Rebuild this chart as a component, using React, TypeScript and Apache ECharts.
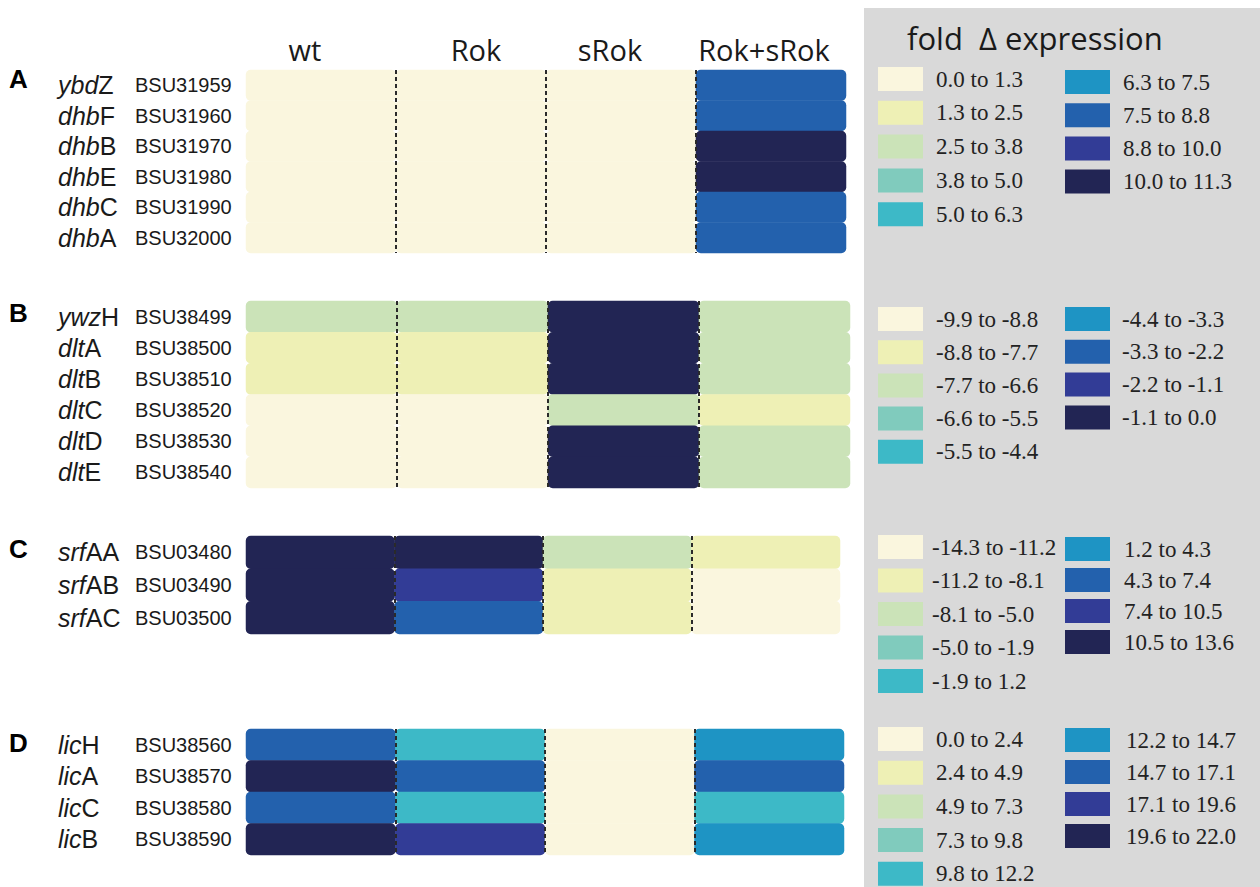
import React, { useEffect, useRef } from "react";
import * as echarts from "echarts";

// ---------- data ----------
const conditions = ["wt", "Rok", "sRok", "Rok+sRok"];
const panelLetters = ["A", "B", "C", "D"];

const genesA = ["ybdZ", "dhbF", "dhbB", "dhbE", "dhbC", "dhbA"];
const idsA = ["BSU31959", "BSU31960", "BSU31970", "BSU31980", "BSU31990", "BSU32000"];
// rows: genes, columns: wt, Rok, sRok, Rok+sRok
const valuesA = [
  [0.5, 0.6, 0.4, 8.1],
  [0.6, 0.5, 0.5, 8.0],
  [0.4, 0.6, 0.5, 10.7],
  [0.5, 0.4, 0.6, 10.9],
  [0.6, 0.5, 0.4, 8.2],
  [0.5, 0.6, 0.5, 8.0],
];
const binsA = [0.0, 1.3, 2.5, 3.8, 5.0, 6.3, 7.5, 8.8, 10.0, 11.3];

const genesB = ["ywzH", "dltA", "dltB", "dltC", "dltD", "dltE"];
const idsB = ["BSU38499", "BSU38500", "BSU38510", "BSU38520", "BSU38530", "BSU38540"];
const valuesB = [
  [-7.1, -7.0, -0.5, -7.0],
  [-8.2, -8.1, -0.4, -7.1],
  [-8.0, -8.3, -0.6, -6.9],
  [-9.3, -9.5, -7.2, -8.0],
  [-9.4, -9.3, -0.3, -7.2],
  [-9.2, -9.4, -0.5, -7.0],
];
const binsB = [-9.9, -8.8, -7.7, -6.6, -5.5, -4.4, -3.3, -2.2, -1.1, 0.0];

const genesC = ["srfAA", "srfAB", "srfAC"];
const idsC = ["BSU03480", "BSU03490", "BSU03500"];
const valuesC = [
  [12.1, 11.0, -6.5, -10.1],
  [12.5, 8.9, -9.6, -12.3],
  [11.8, 5.8, -9.9, -12.8],
];
const binsC = [-14.3, -11.2, -8.1, -5.0, -1.9, 1.2, 4.3, 7.4, 10.5, 13.6];

const genesD = ["licH", "licA", "licC", "licB"];
const idsD = ["BSU38560", "BSU38570", "BSU38580", "BSU38590"];
const valuesD = [
  [15.9, 11.0, 1.1, 13.5],
  [20.8, 15.5, 1.2, 15.8],
  [16.2, 10.8, 1.0, 11.2],
  [20.5, 18.3, 1.1, 13.2],
];
const binsD = [0.0, 2.4, 4.9, 7.3, 9.8, 12.2, 14.7, 17.1, 19.6, 22.0];

const palette = [
  "#faf6de", "#eef0b5", "#cbe3b8", "#80cbbd", "#3db9c7",
  "#1e94c4", "#2361ad", "#323c96", "#222554",
];

// ---------- layout ----------
const SERIF = "'Liberation Serif', 'Times New Roman', Times, serif";
const SANS = "'Liberation Sans', Arial, sans-serif";
const panels = [
  { genes: genesA, ids: idsA, values: valuesA, bins: binsA,
    grid: { left: 246, top: 70, width: 600, height: 183 }, letterY: 79,
    leg: { lTop: 67, lStep: 33.8, rTop: 70, rStep: 33.2, lText: 936, rText: 1123 } },
  { genes: genesB, ids: idsB, values: valuesB, bins: binsB,
    grid: { left: 246, top: 301, width: 604, height: 187 }, letterY: 313,
    leg: { lTop: 307, lStep: 33.2, rTop: 307, rStep: 32.8, lText: 936, rText: 1122 } },
  { genes: genesC, ids: idsC, values: valuesC, bins: binsC,
    grid: { left: 246, top: 536, width: 594, height: 98 }, letterY: 549,
    leg: { lTop: 535, lStep: 33.5, rTop: 537, rStep: 31, lText: 932, rText: 1124 } },
  { genes: genesD, ids: idsD, values: valuesD, bins: binsD,
    grid: { left: 246, top: 729, width: 598, height: 126 }, letterY: 743,
    leg: { lTop: 727, lStep: 33.7, rTop: 728, rStep: 32, lText: 936, rText: 1126 } },
];
const headerShift = [-16, 5, -11, -7];

function buildOption() {
  const grids: any[] = [];
  const xAxes: any[] = [];
  const yAxes: any[] = [];
  const series: any[] = [];
  const visualMaps: any[] = [];
  const graphics: any[] = [];

  graphics.push({
    type: "rect", z: -10, shape: { x: 864, y: 8, width: 396, height: 879 },
    style: { fill: "#d9d9d9" }, silent: true,
  });
  graphics.push({
    type: "text", x: 907, y: 38,
    style: { text: "fold  Δ expression", fontSize: 31, fontFamily: "'Open Sans', sans-serif", fill: "#1a1a1a", verticalAlign: "middle" },
  });

  panels.forEach((p, i) => {
    grids.push({ ...p.grid, containLabel: false });
    const rich: any = {};
    conditions.forEach((c, k) => {
      const s = headerShift[k];
      rich["h" + k] = {
        fontSize: 29, fontFamily: "'Open Sans', sans-serif", color: "#1a1a1a",
        padding: s < 0 ? [0, -2 * s, 0, 0] : [0, 0, 0, 2 * s],
      };
    });
    xAxes.push({
      type: "category", gridIndex: i, data: conditions, position: "top", z: 5,
      axisLine: { show: false }, axisTick: { show: false },
      axisLabel: {
        show: i === 0, margin: 6,
        formatter: (v: string, idx: number) => `{h${idx}|${v}}`, rich,
      },
      splitLine: {
        show: true, showMinLine: false, showMaxLine: false,
        lineStyle: { type: [4, 3], color: "#2a2a2a", width: 2 },
      },
    });
    yAxes.push({
      type: "category", gridIndex: i, data: p.genes, inverse: true, position: "left",
      axisLine: { show: false }, axisTick: { show: false }, splitLine: { show: false },
      axisLabel: {
        align: "left", margin: 246 - 58,
        formatter: (v: string) => {
          const m = v.match(/^([a-z]+)(.*)$/);
          return m ? `{i|${m[1]}}{n|${m[2]}}` : v;
        },
        rich: {
          i: { fontStyle: "italic", fontSize: 25, fontFamily: SANS, color: "#1a1a1a" },
          n: { fontSize: 25, fontFamily: SANS, color: "#1a1a1a" },
        },
      },
    });
    yAxes.push({
      type: "category", gridIndex: i, data: p.ids, inverse: true, position: "left",
      axisLine: { show: false }, axisTick: { show: false }, splitLine: { show: false },
      axisLabel: {
        align: "left", margin: 246 - 135, fontSize: 20,
        fontFamily: SANS, color: "#1a1a1a",
      },
    });
    const data: any[] = [];
    p.values.forEach((row, r) => row.forEach((v, c) => data.push([c, r, v])));
    series.push({
      type: "heatmap", xAxisIndex: i, yAxisIndex: 2 * i, data,
      itemStyle: { borderRadius: 5, borderWidth: 0 },
      emphasis: { disabled: true },
    });
    const pieces = palette.map((col, k) => {
      const piece: any = { gte: p.bins[k], color: col };
      if (k < palette.length - 1) piece.lt = p.bins[k + 1];
      else piece.lte = p.bins[k + 1];
      return piece;
    });
    visualMaps.push({ type: "piecewise", show: false, seriesIndex: i, dimension: 2, pieces });

    // panel letter
    graphics.push({
      type: "text", x: 9, y: p.letterY,
      style: { text: panelLetters[i], fontSize: 26, fontWeight: "bold", fontFamily: SANS, fill: "#000", verticalAlign: "middle" },
    });
    // legend
    const L = p.leg;
    palette.forEach((col, k) => {
      const right = k >= 5;
      const row = right ? k - 5 : k;
      const top = right ? L.rTop + row * L.rStep : L.lTop + row * L.lStep;
      const sx = right ? 1065 : 878;
      graphics.push({
        type: "rect", shape: { x: sx, y: top, width: 45, height: 24 },
        style: { fill: col },
      });
      graphics.push({
        type: "text", x: right ? L.rText : L.lText, y: top + 12,
        style: {
          text: `${p.bins[k].toFixed(1)} to ${p.bins[k + 1].toFixed(1)}`,
          fontSize: 23, fontFamily: SERIF, fill: "#222", verticalAlign: "middle",
        },
      });
    });
  });

  return {
    animation: false,
    backgroundColor: "#ffffff",
    grid: grids,
    xAxis: xAxes,
    yAxis: yAxes,
    visualMap: visualMaps,
    series,
    graphic: graphics,
  };
}

export default function App() {
  const ref = useRef<HTMLDivElement>(null);
  useEffect(() => {
    if (!ref.current) return;
    const chart = echarts.init(ref.current, null, { renderer: "svg" });
    chart.setOption(buildOption() as any);
    return () => chart.dispose();
  }, []);
  return (
    <div
      ref={ref}
      style={{ position: "fixed", left: 0, top: 0, width: 1260, height: 887 }}
    />
  );
}
